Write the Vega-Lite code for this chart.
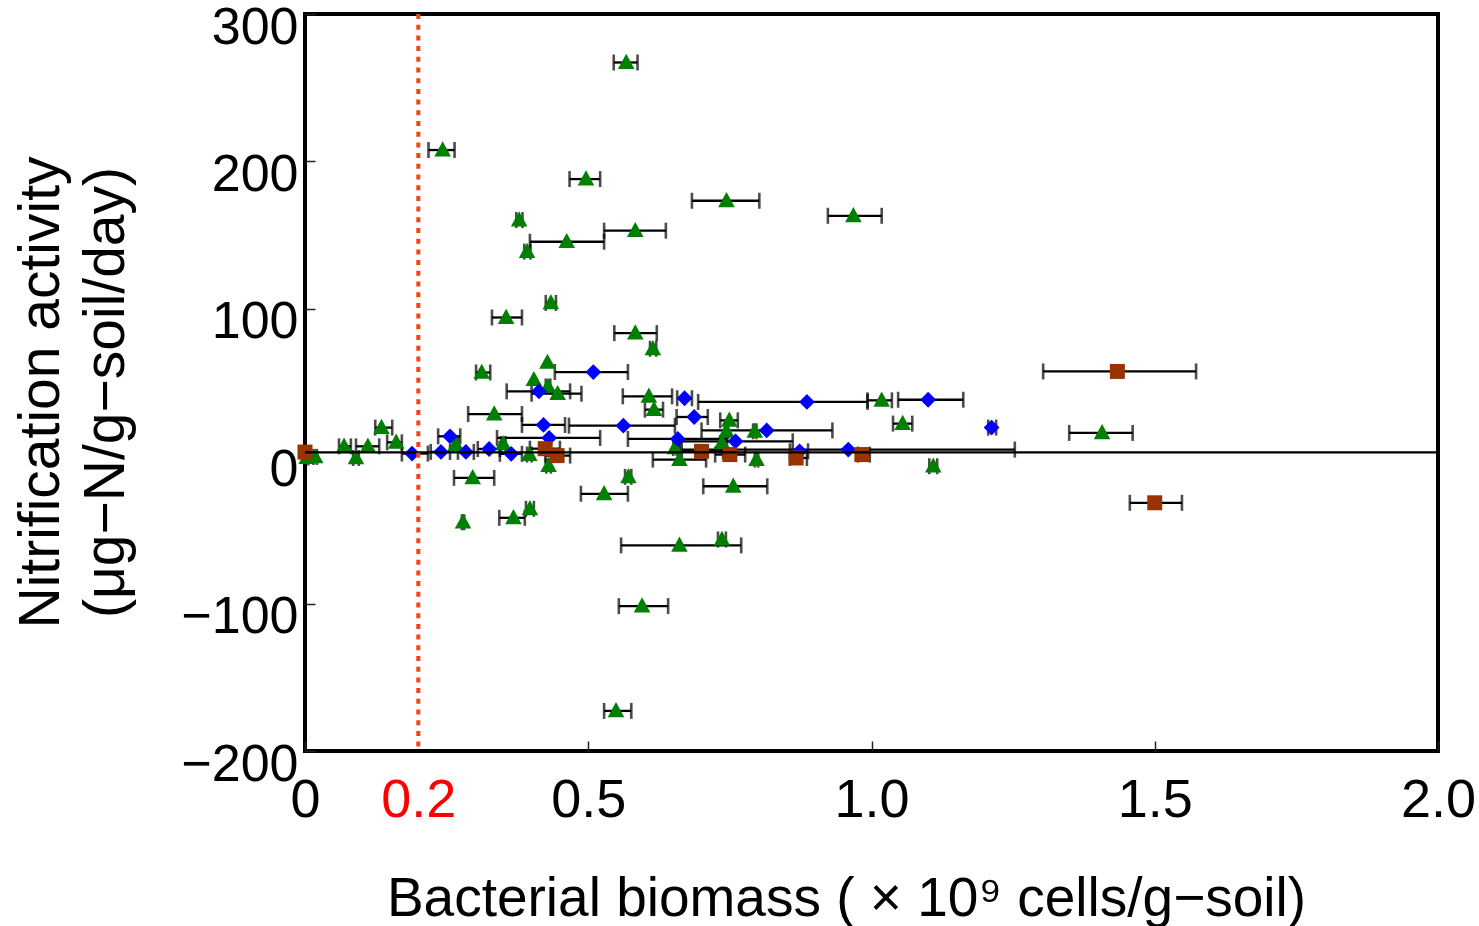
{
  "$schema": "https://vega.github.io/schema/vega-lite/v6.json",
  "width": 1133,
  "height": 737,
  "autosize": {"type": "none"},
  "padding": {"left": 305, "top": 14, "right": 41, "bottom": 175},
  "background": "white",
  "config": {
    "view": {"stroke": "#000", "strokeWidth": 4},
    "axis": {"domain": false, "grid": false, "tickColor": "#222", "tickWidth": 1.5, "tickSize": -10, "labelColor": "#000", "titleColor": "#000", "titleFontWeight": "normal", "labelFlush": false, "labelOverlap": false},
    "axisX": {"labelFont": "Liberation Sans Narrow, Liberation Sans, sans-serif", "labelFontSize": 54, "labelPadding": 32, "labelBaseline": "top", "titleFont": "Liberation Sans, sans-serif", "titleFontSize": 55, "titleX": 541, "titleY": 164, "titleAlign": "center", "titleBaseline": "alphabetic"},
    "axisY": {"labelFont": "Liberation Sans, sans-serif", "labelFontSize": 52, "labelPadding": 17, "labelOffset": 13, "labelBaseline": "middle", "titleFont": "Liberation Sans, sans-serif", "titleFontSize": 57, "titleX": -247, "titleY": 378, "titleAngle": -90, "titleAlign": "center", "titleBaseline": "alphabetic", "titleLineHeight": 65}
  },
  "data": {"values": [
    {"s":"g","x":0.567,"y":267.1,"lo":0.545,"hi":0.587},
    {"s":"g","x":0.243,"y":207.7,"lo":0.218,"hi":0.264},
    {"s":"g","x":0.496,"y":188.0,"lo":0.467,"hi":0.521},
    {"s":"g","x":0.744,"y":173.3,"lo":0.683,"hi":0.802},
    {"s":"g","x":0.968,"y":163.1,"lo":0.923,"hi":1.018},
    {"s":"g","x":0.378,"y":160.2,"lo":0.373,"hi":0.384},
    {"s":"g","x":0.583,"y":153.0,"lo":0.528,"hi":0.637},
    {"s":"g","x":0.462,"y":145.5,"lo":0.397,"hi":0.528},
    {"s":"g","x":0.392,"y":138.8,"lo":0.387,"hi":0.398},
    {"s":"g","x":0.434,"y":104.0,"lo":0.425,"hi":0.443},
    {"s":"g","x":0.355,"y":94.1,"lo":0.330,"hi":0.383},
    {"s":"g","x":0.583,"y":83.5,"lo":0.546,"hi":0.621},
    {"s":"g","x":0.614,"y":72.9,"lo":0.609,"hi":0.620},
    {"s":"g","x":0.312,"y":56.8,"lo":0.302,"hi":0.327},
    {"s":"g","x":0.428,"y":63.6,"lo":null,"hi":null},
    {"s":"g","x":0.404,"y":51.9,"lo":null,"hi":null},
    {"s":"g","x":0.429,"y":47.3,"lo":0.425,"hi":0.433},
    {"s":"g","x":0.446,"y":42.4,"lo":0.400,"hi":0.488},
    {"s":"g","x":0.607,"y":40.6,"lo":0.561,"hi":0.648},
    {"s":"g","x":0.616,"y":31.6,"lo":0.600,"hi":0.632},
    {"s":"g","x":0.334,"y":28.6,"lo":0.288,"hi":0.383},
    {"s":"g","x":0.135,"y":19.4,"lo":0.124,"hi":0.154},
    {"s":"g","x":0.069,"y":6.7,"lo":0.060,"hi":0.081},
    {"s":"g","x":0.090,"y":-1.2,"lo":0.085,"hi":0.095},
    {"s":"g","x":0.111,"y":6.7,"lo":0.090,"hi":0.131},
    {"s":"g","x":0.161,"y":9.4,"lo":0.145,"hi":0.171},
    {"s":"g","x":0.003,"y":-0.9,"lo":0.0,"hi":0.006},
    {"s":"g","x":0.018,"y":-0.5,"lo":0.015,"hi":0.021},
    {"s":"g","x":0.266,"y":7.9,"lo":0.262,"hi":0.270},
    {"s":"g","x":0.350,"y":8.3,"lo":0.346,"hi":0.354},
    {"s":"g","x":0.396,"y":1.1,"lo":0.392,"hi":0.400},
    {"s":"g","x":0.430,"y":-6.4,"lo":0.426,"hi":0.434},
    {"s":"g","x":0.296,"y":-14.7,"lo":0.263,"hi":0.334},
    {"s":"g","x":0.528,"y":-25.5,"lo":0.487,"hi":0.570},
    {"s":"g","x":0.571,"y":-14.0,"lo":0.565,"hi":0.576},
    {"s":"g","x":0.756,"y":-20.4,"lo":0.703,"hi":0.816},
    {"s":"g","x":0.397,"y":-35.7,"lo":0.390,"hi":0.404},
    {"s":"g","x":0.368,"y":-41.8,"lo":0.343,"hi":0.388},
    {"s":"g","x":0.279,"y":-44.8,"lo":0.277,"hi":0.281},
    {"s":"g","x":0.661,"y":-60.5,"lo":0.558,"hi":0.770},
    {"s":"g","x":0.736,"y":-56.5,"lo":0.729,"hi":0.743},
    {"s":"g","x":0.595,"y":-101.7,"lo":0.554,"hi":0.641},
    {"s":"g","x":0.549,"y":-172.8,"lo":0.528,"hi":0.576},
    {"s":"g","x":0.749,"y":24.3,"lo":0.733,"hi":0.764},
    {"s":"g","x":0.744,"y":16.9,"lo":0.741,"hi":0.747},
    {"s":"g","x":0.794,"y":16.9,"lo":0.791,"hi":0.797},
    {"s":"g","x":0.736,"y":9.0,"lo":0.733,"hi":0.739},
    {"s":"g","x":0.653,"y":5.6,"lo":0.650,"hi":0.656},
    {"s":"g","x":0.661,"y":-2.3,"lo":0.614,"hi":0.708},
    {"s":"g","x":0.797,"y":-2.3,"lo":0.794,"hi":0.800},
    {"s":"g","x":1.018,"y":37.9,"lo":0.993,"hi":1.036},
    {"s":"g","x":1.055,"y":22.1,"lo":1.038,"hi":1.072},
    {"s":"g","x":1.109,"y":-6.8,"lo":1.102,"hi":1.116},
    {"s":"g","x":1.407,"y":15.8,"lo":1.349,"hi":1.461},
    {"s":"b","x":0.509,"y":57.1,"lo":0.441,"hi":0.570},
    {"s":"b","x":0.413,"y":44.0,"lo":0.356,"hi":0.468},
    {"s":"b","x":0.670,"y":39.3,"lo":0.657,"hi":0.683},
    {"s":"b","x":0.886,"y":36.8,"lo":0.694,"hi":0.993},
    {"s":"b","x":1.100,"y":38.3,"lo":1.047,"hi":1.162},
    {"s":"b","x":0.421,"y":21.2,"lo":0.383,"hi":0.459},
    {"s":"b","x":0.562,"y":20.7,"lo":0.466,"hi":0.653},
    {"s":"b","x":0.687,"y":26.6,"lo":0.656,"hi":0.711},
    {"s":"b","x":0.815,"y":17.5,"lo":0.700,"hi":0.931},
    {"s":"b","x":1.212,"y":19.4,"lo":1.206,"hi":1.220},
    {"s":"b","x":0.431,"y":12.4,"lo":0.339,"hi":0.521},
    {"s":"b","x":0.658,"y":11.7,"lo":0.570,"hi":0.745},
    {"s":"b","x":0.760,"y":10.1,"lo":0.660,"hi":0.861},
    {"s":"b","x":0.256,"y":13.5,"lo":0.235,"hi":0.274},
    {"s":"b","x":0.189,"y":1.8,"lo":0.171,"hi":0.217},
    {"s":"b","x":0.240,"y":2.9,"lo":0.222,"hi":0.256},
    {"s":"b","x":0.284,"y":2.9,"lo":0.270,"hi":0.298},
    {"s":"b","x":0.325,"y":4.9,"lo":0.305,"hi":0.344},
    {"s":"b","x":0.364,"y":1.6,"lo":0.344,"hi":0.383},
    {"s":"b","x":0.873,"y":3.3,"lo":0.856,"hi":0.888},
    {"s":"b","x":0.959,"y":4.5,"lo":0.665,"hi":1.253},
    {"s":"r","x":0.0,"y":2.8,"lo":null,"hi":null},
    {"s":"r","x":0.424,"y":5.1,"lo":0.397,"hi":0.450},
    {"s":"r","x":0.445,"y":0.4,"lo":0.424,"hi":0.468},
    {"s":"r","x":0.700,"y":3.3,"lo":0.662,"hi":0.738},
    {"s":"r","x":0.750,"y":1.1,"lo":0.724,"hi":0.777},
    {"s":"r","x":0.867,"y":-1.2,"lo":0.856,"hi":0.886},
    {"s":"r","x":0.983,"y":1.1,"lo":0.976,"hi":0.997},
    {"s":"r","x":1.434,"y":57.5,"lo":1.303,"hi":1.573},
    {"s":"r","x":1.500,"y":-31.6,"lo":1.456,"hi":1.548}
  ]},
  "layer": [
    {
      "transform": [{"filter": "isValid(datum.lo)"}],
      "mark": {"type": "rule", "color": "#000", "strokeWidth": 2.3},
      "encoding": {
        "x": {"field": "lo", "type": "quantitative", "scale": {"domain": [0, 2], "nice": false, "zero": false},
          "title": "Bacterial biomass ( × 10⁹ cells/g−soil)",
          "axis": {"values": [0, 0.2, 0.5, 1.0, 1.5, 2.0],
            "labelExpr": "datum.value == 0 ? '0' : format(datum.value, '.1f')",
            "labelColor": {"condition": {"test": "abs(datum.value - 0.2) < 0.001", "value": "#ff0000"}, "value": "#000"},
            "tickOpacity": {"condition": {"test": "abs(datum.value - 0.2) < 0.001", "value": 0}, "value": 1}}},
        "x2": {"field": "hi"},
        "y": {"field": "y", "type": "quantitative", "scale": {"domain": [-200, 300], "nice": false, "zero": false},
          "title": ["Nitrification activity", "(μg−N/g−soil/day)"],
          "axis": {"values": [-200, -100, 0, 100, 200, 300]}}
      }
    },
    {
      "transform": [{"filter": "isValid(datum.lo)"}],
      "mark": {"type": "tick", "orient": "vertical", "color": "#000", "thickness": 2.6, "size": 16},
      "encoding": {
        "x": {"field": "lo", "type": "quantitative", "title": "Bacterial biomass ( × 10⁹ cells/g−soil)"},
        "y": {"field": "y", "type": "quantitative", "title": ["Nitrification activity", "(μg−N/g−soil/day)"]}
      }
    },
    {
      "transform": [{"filter": "isValid(datum.hi)"}],
      "mark": {"type": "tick", "orient": "vertical", "color": "#000", "thickness": 2.6, "size": 16},
      "encoding": {
        "x": {"field": "hi", "type": "quantitative", "title": "Bacterial biomass ( × 10⁹ cells/g−soil)"},
        "y": {"field": "y", "type": "quantitative", "title": ["Nitrification activity", "(μg−N/g−soil/day)"]}
      }
    },
    {
      "mark": {"type": "point", "filled": true, "opacity": 1},
      "encoding": {
        "x": {"field": "x", "type": "quantitative", "title": "Bacterial biomass ( × 10⁹ cells/g−soil)"},
        "y": {"field": "y", "type": "quantitative", "title": ["Nitrification activity", "(μg−N/g−soil/day)"]},
        "shape": {"field": "s", "type": "nominal", "scale": {"domain": ["g", "b", "r"], "range": ["M0,-1.06L1,0.77L-1,0.77Z", "diamond", "square"]}, "legend": null},
        "color": {"field": "s", "type": "nominal", "scale": {"domain": ["g", "b", "r"], "range": ["#008000", "#0000ff", "#993300"]}, "legend": null},
        "size": {"field": "s", "type": "nominal", "scale": {"domain": ["g", "b", "r"], "range": [275, 225, 196]}, "legend": null}
      }
    },
    {
      "data": {"values": [{"y": 2.6}]},
      "mark": {"type": "rule", "color": "#000", "strokeWidth": 2.2},
      "encoding": {"y": {"field": "y", "type": "quantitative", "title": ["Nitrification activity", "(μg−N/g−soil/day)"]}}
    },
    {
      "data": {"values": [{"x": 0.2}]},
      "mark": {"type": "rule", "color": "#ff4010", "strokeWidth": 4, "strokeDash": [5, 5.7]},
      "encoding": {"x": {"field": "x", "type": "quantitative", "title": "Bacterial biomass ( × 10⁹ cells/g−soil)"}}
    }
  ]
}
